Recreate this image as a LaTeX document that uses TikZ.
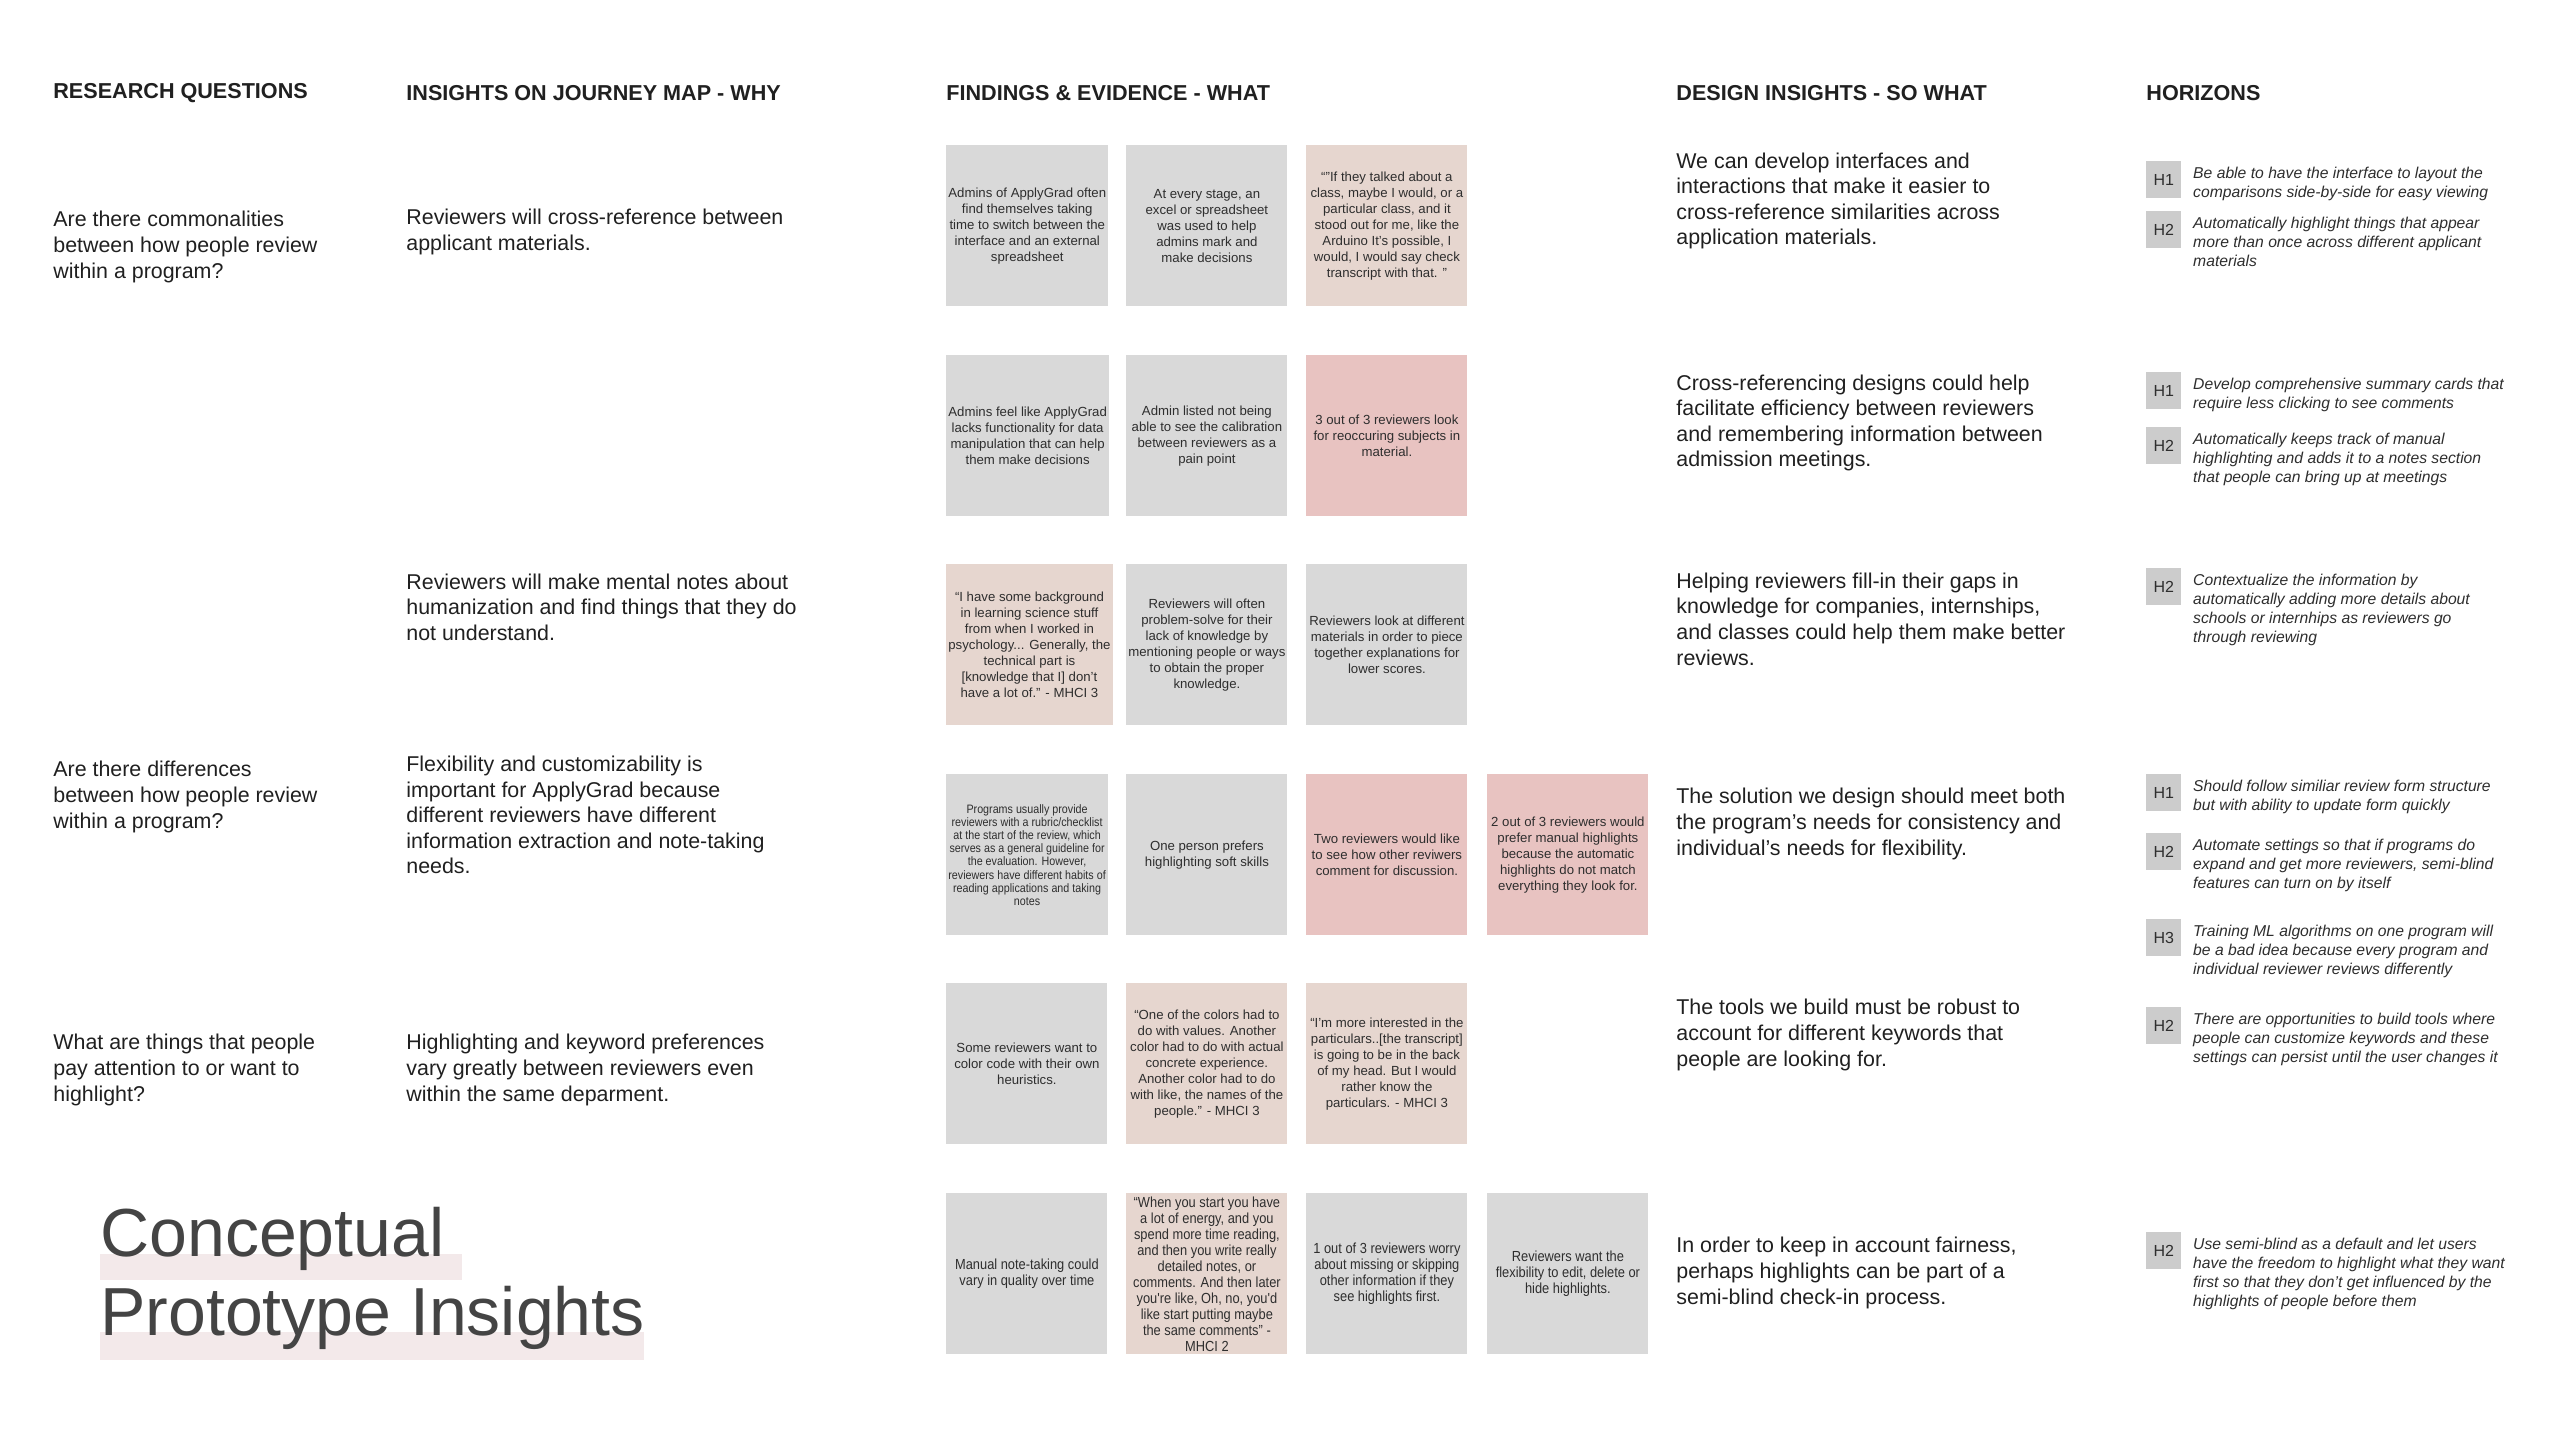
\documentclass[tikz,border=0pt]{standalone}
\usepackage{fontspec}
\setmainfont{Liberation Sans}
\newfontfamily\narrowsans[FakeStretch=0.88]{Liberation Sans}
\usetikzlibrary{positioning}

\definecolor{notegray}{HTML}{D9D9D9}
\definecolor{notequote}{HTML}{E6D6CF}
\definecolor{notepink}{HTML}{E8C3C1}
\definecolor{notetext}{HTML}{2E2E2E}
\definecolor{badgegray}{HTML}{CCCCCC}
\definecolor{inktext}{HTML}{202020}
\definecolor{titleink}{HTML}{444444}
\definecolor{titlebar}{HTML}{F3E9EA}

\tikzset{
  header/.style={anchor=west,inner sep=0pt,text=inktext,font=\fontsize{10.8}{12}\selectfont\bfseries},
  body/.style={anchor=west,inner sep=0pt,align=left,text=inktext,font=\fontsize{10.7}{12.8}\selectfont},
  stickynote/.style={anchor=north west,inner sep=1pt,align=center,minimum width=80.5pt,minimum height=80.5pt,
    text=notetext,font=\fontsize{6.6}{8}\selectfont},
  graynote/.style={stickynote,fill=notegray},
  quotenote/.style={stickynote,fill=notequote},
  pinknote/.style={stickynote,fill=notepink},
  condensed/.style={font=\narrowsans\fontsize{7.3}{8}\selectfont},
  badge/.style={anchor=north west,inner sep=0pt,minimum width=17.5pt,minimum height=18.5pt,fill=badgegray,
    text=notetext,font=\fontsize{8}{9}\selectfont},
  horizon/.style={inner sep=0pt,align=left,text=notetext,font=\fontsize{7.85}{9.5}\selectfont\itshape},
}

\begin{document}
\begin{tikzpicture}[x=0.5pt,y=-0.5pt]
  \path[use as bounding box,fill=white] (0,0) rectangle (2576,1444);

  % Column headers
  \node[header] (hq) at (53,93) {RESEARCH QUESTIONS};
  \node[header] (hw) at (406,93) {INSIGHTS ON JOURNEY MAP - WHY};
  \node[header] (hf) at (946,93) {FINDINGS \& EVIDENCE - WHAT};
  \node[header] (hd) at (1676,93) {DESIGN INSIGHTS - SO WHAT};
  \node[header] (hh) at (2146,93) {HORIZONS};

  % Research questions
  \node[body] (q1) at (53,247) {Are there commonalities\\between how people review\\within a program?};
  \node[body] (q4) at (53,797) {Are there differences\\between how people review\\within a program?};
  \node[body] (q5) at (53,1070) {What are things that people\\pay attention to or want to\\highlight?};

  % Insights on journey map
  \node[body] (w1) at (406,232) {Reviewers will cross-reference between\\applicant materials.};
  \node[body] (w3) at (406,607) {Reviewers will make mental notes about\\humanization and find things that they do\\not understand.};
  \node[body] (w4) at (406,815) {Flexibility and customizability is\\important for ApplyGrad because\\different reviewers have different\\information extraction and note-taking\\needs.};
  \node[body] (w5) at (406,1070) {Highlighting and keyword preferences\\vary greatly between reviewers even\\within the same deparment.};

  % Findings, row 1
  \node[graynote] (n11) at (946,145) {Admins of ApplyGrad often\\find themselves taking\\time to switch between the\\interface and an external\\spreadsheet};
  \node[graynote] (n12) at (1126,145) {At every stage, an\\excel or spreadsheet\\was used to help\\admins mark and\\make decisions};
  \node[quotenote] (n13) at (1306,145) {“"If they talked about a\\class, maybe I would, or a\\particular class, and it\\stood out for me, like the\\Arduino It's possible, I\\would, I would say check\\transcript with that. ”};
  % row 2
  \node[graynote] (n21) at (946,355) {Admins feel like ApplyGrad\\lacks functionality for data\\manipulation that can help\\them make decisions};
  \node[graynote] (n22) at (1126,355) {Admin listed not being\\able to see the calibration\\between reviewers as a\\pain point};
  \node[pinknote] (n23) at (1306,355) {3 out of 3 reviewers look\\for reoccuring subjects in\\material.};
  % row 3
  \node[quotenote] (n31) at (946,564) {“I have some background\\in learning science stuff\\from when I worked in\\psychology... Generally, the\\technical part is\\{[}knowledge that I{]} don't\\have a lot of.” - MHCI 3};
  \node[graynote] (n32) at (1126,564) {Reviewers will often\\problem-solve for their\\lack of knowledge by\\mentioning people or ways\\to obtain the proper\\knowledge.};
  \node[graynote] (n33) at (1306,564) {Reviewers look at different\\materials in order to piece\\together explanations for\\lower scores.};
  % row 4
  \node[graynote,font=\narrowsans\fontsize{6.1}{6.6}\selectfont] (n41) at (946,774) {Programs usually provide\\reviewers with a rubric/checklist\\at the start of the review, which\\serves as a general guideline for\\the evaluation. However,\\reviewers have different habits of\\reading applications and taking\\notes};
  \node[graynote] (n42) at (1126,774) {One person prefers\\highlighting soft skills};
  \node[pinknote] (n43) at (1306,774) {Two reviewers would like\\to see how other reviwers\\comment for discussion.};
  \node[pinknote] (n44) at (1487,774) {2 out of 3 reviewers would\\prefer manual highlights\\because the automatic\\highlights do not match\\everything they look for.};
  % row 5
  \node[graynote] (n51) at (946,983) {Some reviewers want to\\color code with their own\\heuristics.};
  \node[quotenote] (n52) at (1126,983) {“One of the colors had to\\do with values. Another\\color had to do with actual\\concrete experience.\\Another color had to do\\with like, the names of the\\people.” - MHCI 3};
  \node[quotenote] (n53) at (1306,983) {“I'm more interested in the\\particulars..[the transcript]\\is going to be in the back\\of my head. But I would\\rather know the\\particulars. - MHCI 3};
  % row 6
  \node[graynote,condensed] (n61) at (946,1193) {Manual note-taking could\\vary in quality over time};
  \node[quotenote,condensed] (n62) at (1126,1193) {“When you start you have\\a lot of energy, and you\\spend more time reading,\\and then you write really\\detailed notes, or\\comments. And then later\\you're like, Oh, no, you'd\\like start putting maybe\\the same comments” -\\MHCI 2};
  \node[graynote,condensed] (n63) at (1306,1193) {1 out of 3 reviewers worry\\about missing or skipping\\other information if they\\see highlights first.};
  \node[graynote,condensed] (n64) at (1487,1193) {Reviewers want the\\flexibility to edit, delete or\\hide highlights.};

  % Design insights
  \node[body] (s1) at (1676,201) {We can develop interfaces and\\interactions that make it easier to\\cross-reference similarities across\\application materials.};
  \node[body] (s2) at (1676,423) {Cross-referencing designs could help\\facilitate efficiency between reviewers\\and remembering information between\\admission meetings.};
  \node[body] (s3) at (1676,619) {Helping reviewers fill-in their gaps in\\knowledge for companies, internships,\\and classes could help them make better\\reviews.};
  \node[body] (s4) at (1676,824) {The solution we design should meet both\\the program's needs for consistency and\\individual's needs for flexibility.};
  \node[body] (s5) at (1676,1035) {The tools we build must be robust to\\account for different keywords that\\people are looking for.};
  \node[body] (s6) at (1676,1273) {In order to keep in account fairness,\\perhaps highlights can be part of a\\semi-blind check-in process.};

  % Horizons
  \node[badge] (hb1) at (2146,161) {H1};
  \node[horizon,right=5.5pt of hb1.north east,anchor=north west,yshift=-2.8pt] (ht1) {Be able to have the interface to layout the\\comparisons side-by-side for easy viewing};
  \node[badge] (hb2) at (2146,211) {H2};
  \node[horizon,right=5.5pt of hb2.north east,anchor=north west,yshift=-2.8pt] (ht2) {Automatically highlight things that appear\\more than once across different applicant\\materials};
  \node[badge] (hb3) at (2146,372) {H1};
  \node[horizon,right=5.5pt of hb3.north east,anchor=north west,yshift=-2.8pt] (ht3) {Develop comprehensive summary cards that\\require less clicking to see comments};
  \node[badge] (hb4) at (2146,427) {H2};
  \node[horizon,right=5.5pt of hb4.north east,anchor=north west,yshift=-2.8pt] (ht4) {Automatically keeps track of manual\\highlighting and adds it to a notes section\\that people can bring up at meetings};
  \node[badge] (hb5) at (2146,568) {H2};
  \node[horizon,right=5.5pt of hb5.north east,anchor=north west,yshift=-2.8pt] (ht5) {Contextualize the information by\\automatically adding more details about\\schools or internhips as reviewers go\\through reviewing};
  \node[badge] (hb6) at (2146,774) {H1};
  \node[horizon,right=5.5pt of hb6.north east,anchor=north west,yshift=-2.8pt] (ht6) {Should follow similiar review form structure\\but with ability to update form quickly};
  \node[badge] (hb7) at (2146,833) {H2};
  \node[horizon,right=5.5pt of hb7.north east,anchor=north west,yshift=-2.8pt] (ht7) {Automate settings so that if programs do\\expand and get more reviewers, semi-blind\\features can turn on by itself};
  \node[badge] (hb8) at (2146,919) {H3};
  \node[horizon,right=5.5pt of hb8.north east,anchor=north west,yshift=-2.8pt] (ht8) {Training ML algorithms on one program will\\be a bad idea because every program and\\individual reviewer reviews differently};
  \node[badge] (hb9) at (2146,1007) {H2};
  \node[horizon,right=5.5pt of hb9.north east,anchor=north west,yshift=-2.8pt] (ht9) {There are opportunities to build tools where\\people can customize keywords and these\\settings can persist until the user changes it};
  \node[badge] (hb10) at (2146,1232) {H2};
  \node[horizon,right=5.5pt of hb10.north east,anchor=north west,yshift=-2.8pt] (ht10) {Use semi-blind as a default and let users\\have the freedom to highlight what they want\\first so that they don't get influenced by the\\highlights of people before them};

  % Title with highlight bars
  \fill[titlebar] (100,1254) rectangle (462,1280);
  \fill[titlebar] (100,1332) rectangle (644,1360);
  \node[anchor=base west,inner sep=0pt,text=titleink,font=\fontsize{34}{40}\selectfont] (t1) at (100,1256) {Conceptual};
  \node[anchor=base west,inner sep=0pt,text=titleink,font=\fontsize{34}{40}\selectfont] (t2) at (100,1335) {Prototype Insights};
\end{tikzpicture}
\end{document}
